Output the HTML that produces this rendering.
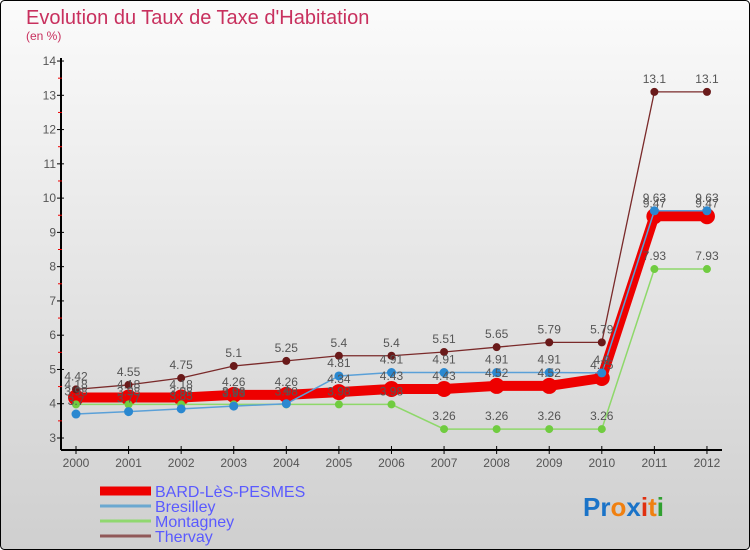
<!DOCTYPE html>
<html><head><meta charset="utf-8"><style>
body{margin:0}
#c{width:750px;height:550px;position:relative;overflow:hidden;font-family:"Liberation Sans",sans-serif}
</style></head><body>
<div id="c">
<svg id="s" width="750" height="550" xmlns="http://www.w3.org/2000/svg">
<defs><linearGradient id="bg" x1="0" y1="0" x2="0" y2="1"><stop offset="0" stop-color="#fbfbfb"/><stop offset="1" stop-color="#cfcfcf"/></linearGradient></defs>
<rect x="0.5" y="0.5" width="749" height="549" rx="4" fill="url(#bg)" stroke="#000"/>
<text x="26" y="24" font-size="20" fill="#c8305e">Evolution du Taux de Taxe d'Habitation</text>
<text x="26" y="40" font-size="12" fill="#c8305e">(en %)</text>
<g id="axes"></g><g id="plot"></g><g id="labels"></g><g id="legend"></g>
<text x="583" y="516" font-size="26" font-weight="bold"><tspan fill="#1a73c8">Pr</tspan><tspan fill="#f08010">o</tspan><tspan fill="#1a73c8">x</tspan><tspan fill="#e03010">i</tspan><tspan fill="#f08010">t</tspan><tspan fill="#30a030">i</tspan></text>
</svg>
</div>
<script>
const years=[2000,2001,2002,2003,2004,2005,2006,2007,2008,2009,2010,2011,2012];
const yTicks=[3,4,5,6,7,8,9,10,11,12,13,14];
const bard=[4.18,4.18,4.18,4.26,4.26,4.34,4.43,4.43,4.52,4.52,4.75,9.47,9.47];
const bresilley=[3.7,3.77,3.85,3.93,4.0,4.81,4.91,4.91,4.91,4.91,4.9,9.63,9.63];
const montagney=[3.98,3.98,3.98,3.98,3.98,3.98,3.98,3.26,3.26,3.26,3.26,7.93,7.93];
const thervay=[4.42,4.55,4.75,5.1,5.25,5.4,5.4,5.51,5.65,5.79,5.79,13.1,13.1];
const NS="http://www.w3.org/2000/svg";
const X=i=>76+i*52.58, Y=v=>438-(v-3)*34.27;
function mk(t,a,p){const e=document.createElementNS(NS,t);for(const k in a)e.setAttribute(k,a[k]);p.appendChild(e);return e;}
const ax=document.getElementById('axes');
let l=mk('line',{x1:61,y1:58,x2:61,y2:450,stroke:'#000','stroke-width':2},ax);


l=mk('line',{x1:61,y1:450,x2:722,y2:450,stroke:'#000','stroke-width':2},ax);


yTicks.forEach(v=>{
 mk('line',{x1:57,y1:Y(v),x2:64,y2:Y(v),stroke:'#000'},ax);
 if(v<14)mk('line',{x1:58,y1:Y(v+0.5),x2:62,y2:Y(v+0.5),stroke:'#e00'},ax);
 const t=mk('text',{x:56,y:Y(v)+4,'font-size':12,fill:'#555','text-anchor':'end'},ax);t.textContent=v;
 
 
});
years.forEach((y,i)=>{
 mk('line',{x1:X(i),y1:446,x2:X(i),y2:454,stroke:'#000'},ax);
 const t=mk('text',{x:X(i),y:467,'font-size':12,fill:'#555','text-anchor':'middle'},ax);t.textContent=y;
 
 
});
const series=[
 {n:'BARD-LèS-PESMES',d:bard,c:'#ee0000',w:10,r:8,f:'#ee0000'},
 {n:'Thervay',d:thervay,c:'#7a2a2a',w:1.3,r:4,f:'#6a1a1a'},
 {n:'Montagney',d:montagney,c:'#8ed86a',w:1.5,r:4,f:'#70cc40'},
 {n:'Bresilley',d:bresilley,c:'#5aa0d8',w:1.5,r:4.5,f:'#2a88d0'}];
const pl=document.getElementById('plot');
const lb=document.getElementById('labels');
series.forEach(s=>{
 const g=mk('g',{},pl);
 
 
 mk('polyline',{points:s.d.map((v,i)=>X(i)+','+Y(v)).join(' '),fill:'none',stroke:s.c,'stroke-width':s.w},g);
 s.d.forEach((v,i)=>{
  const c=mk('circle',{cx:X(i),cy:Y(v),r:s.r,fill:s.f},g);
  
  
  const t=mk('text',{x:X(i),y:Y(v)-9,'font-size':12,fill:'#555','text-anchor':'middle'},lb);t.textContent=v;
 });
});
const lg=document.getElementById('legend');
[['BARD-LèS-PESMES','#ee0000',9],['Bresilley','#6aa8d0',3],['Montagney','#90d870',3],['Thervay','#905858',3]].forEach((e,i)=>{
 const y=491+i*15;
 const g=mk('g',{},lg);
 
 
 mk('line',{x1:100,y1:y,x2:151,y2:y,stroke:e[1],'stroke-width':e[2]},g);
 const t=mk('text',{x:155,y:y+6,'font-size':16,fill:'#5a5aff'},g);t.textContent=e[0];
});
</script>
</body></html>
